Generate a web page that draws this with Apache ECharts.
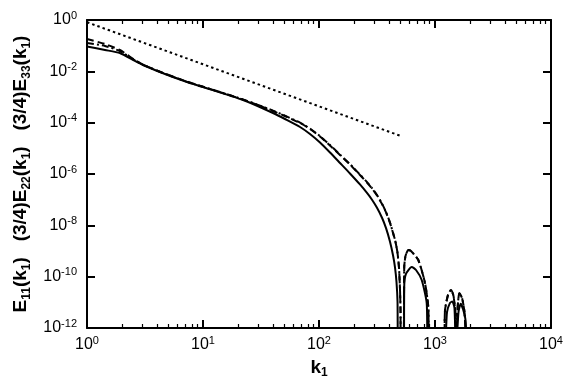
<!DOCTYPE html>
<html>
<head>
<meta charset="utf-8">
<script src="https://cdn.jsdelivr.net/npm/echarts@6/dist/echarts.min.js"></script>
<style>
  html, body { margin: 0; padding: 0; background: #fff; }
  #chart { width: 581px; height: 388px; }
</style>
</head>
<body>
<div id="chart"></div>
<script>
// tick positions
var xMajor = [1, 10, 100, 1000, 10000];
var xMinor = [2, 3, 4, 5, 6, 7, 8, 9, 20, 30, 40, 50, 60, 70, 80, 90,
  200, 300, 400, 500, 600, 700, 800, 900, 2000, 3000, 4000, 5000, 6000, 7000, 8000, 9000];
var yTicks = [1e-12, 1e-10, 1e-8, 1e-6, 1e-4, 1e-2, 1];

// E11 (solid)
var e11K = [1, 1.43, 1.92, 2.59, 3.04, 4.70, 7.28, 10, 22.1, 40.1, 51.9, 68.6, 83.6, 102, 124.4, 151.7, 184.9, 225.5, 259.2, 286.4,
  316.2, 349.3, 378.3, 409.4, 434.5, 452, 465.6, 475.3, 481.8,
  538, 543.5, 562, 630, 686, 768, 848, 880,
  1180, 1269, 1347, 1410, 1472, 1520,
  1540, 1594, 1666, 1743, 1832, 1880];
var e11E = [9.29e-2, 6.78e-2, 5.18e-2, 2.53e-2, 1.77e-2, 7.87e-3, 3.85e-3, 2.45e-3, 7.64e-4, 2.38e-4, 1.33e-4, 6.79e-5, 3.62e-5, 1.69e-5, 6.89e-6, 2.69e-6, 1.05e-6, 3.91e-7, 1.82e-7, 9.9e-8,
  4.83e-8, 1.97e-8, 7.74e-9, 2.29e-9, 6.82e-10, 2.32e-10, 6.21e-11, 1.03e-11, 1e-13,
  1e-13, 4.79e-11, 1.29e-10, 2.40e-10, 1.82e-10, 7.41e-11, 9.55e-12, 1e-13,
  1e-13, 4.17e-12, 9.55e-12, 1.07e-11, 6.03e-12, 1e-13,
  1e-13, 4.17e-12, 8.71e-12, 5.50e-12, 2.04e-12, 1e-13];

// (3/4)E22 (dashed)
var e22K = [1, 1.43, 1.92, 2.59, 3.04, 4.70, 7.28, 10, 22.1, 40.1, 51.9, 68.6, 83.6, 102, 124.4, 151.7, 184.9, 225.5, 259.2, 286.4,
  316.2, 349.3, 378.3, 409.4, 434.5, 456.6, 475.1, 489.5, 499.3, 504.2, 509.2,
  535, 543, 557, 589, 621, 718, 820, 875, 900,
  1175, 1220, 1295, 1374, 1444, 1502, 1530,
  1540, 1563, 1620, 1710, 1796, 1880];
var e22E = [1.82e-1, 1.16e-1, 6.78e-2, 2.75e-2, 1.82e-2, 8.13e-3, 3.98e-3, 2.51e-3, 7.94e-4, 2.85e-4, 1.74e-4, 9.72e-5, 5.68e-5, 2.90e-5, 1.29e-5, 5.51e-6, 2.35e-6, 9.16e-7, 4.68e-7, 2.73e-7,
  1.46e-7, 6.79e-8, 3.17e-8, 1.24e-8, 5.04e-9, 2.25e-9, 8.38e-10, 2.18e-10, 3.03e-11, 5.01e-12, 1e-13,
  1e-13, 2.40e-10, 6.46e-10, 1.10e-9, 1.0e-9, 4.47e-10, 5.62e-11, 6.76e-12, 1e-13,
  1e-13, 5.01e-12, 1.95e-11, 3.02e-11, 1.78e-11, 3.24e-12, 1e-13,
  1e-13, 5.01e-12, 2.24e-11, 1.48e-11, 4.17e-12, 1e-13];

// (3/4)E33 (dash-dot)
var e33K = e22K;
var e33E = [1.27e-1, 9.77e-2, 6.17e-2, 2.69e-2, 1.80e-2, 8.0e-3, 3.9e-3, 2.5e-3, 8.1e-4, 2.95e-4, 1.8e-4, 1.0e-4, 5.9e-5, 3.0e-5, 1.34e-5, 5.7e-6, 2.43e-6, 9.5e-7, 4.85e-7, 2.83e-7,
  1.51e-7, 7.0e-8, 3.27e-8, 1.28e-8, 5.2e-9, 2.3e-9, 8.5e-10, 2.2e-10, 3.1e-11, 5.1e-12, 1e-13,
  1e-13, 2.40e-10, 6.46e-10, 1.10e-9, 1.0e-9, 4.47e-10, 5.62e-11, 6.76e-12, 1e-13,
  1e-13, 5.01e-12, 1.95e-11, 3.02e-11, 1.78e-11, 3.24e-12, 1e-13,
  1e-13, 5.01e-12, 2.24e-11, 1.48e-11, 4.17e-12, 1e-13];

// k^-5/3 reference line (dotted)
var refK = [1, 500];
var refE = [0.82, 3.1e-5];

function zip(a, b) {
  return a.map(function (v, i) { return [v, b[i]]; });
}

var font = 'Liberation Sans';
function powLabel(v) {
  var e = Math.round(Math.log10(v));
  return '{b|10}{s|' + e + '}';
}
var labelRich = {
  b: { fontSize: 16, fontFamily: font, color: '#000', lineHeight: 20 },
  s: { fontSize: 11, fontFamily: font, color: '#000', lineHeight: 12, verticalAlign: 'top' }
};

function xAx(pos, ticks, len, w, showLine, showLabel) {
  return {
    type: 'log', min: 1, max: 10000, position: pos,
    axisLine: { show: showLine, onZero: false, lineStyle: { color: '#000', width: 2 } },
    axisTick: { show: true, inside: true, length: len, customValues: ticks, lineStyle: { color: '#000', width: w } },
    axisLabel: { show: showLabel, customValues: xMajor, formatter: powLabel, rich: labelRich, margin: 7 },
    splitLine: { show: false }, minorTick: { show: false }
  };
}

function curve(name, k, e, type) {
  return {
    name: name, type: 'line', data: zip(k, e), showSymbol: false, symbol: 'none', clip: true,
    smooth: 0.2,
    lineStyle: { color: '#000', width: 2, type: type }
  };
}

var chart = echarts.init(document.getElementById('chart'));
chart.setOption({
  animation: false,
  backgroundColor: '#fff',
  grid: { left: 87, right: 30, top: 20, bottom: 60, containLabel: false },
  xAxis: [
    Object.assign(xAx('bottom', xMajor, 8, 2, true, true), {
      name: '{t|k}{u|1}', nameLocation: 'middle', nameGap: 20,
      nameTextStyle: {
        rich: {
          t: { fontSize: 19, fontWeight: 'bold', fontFamily: font, color: '#000', lineHeight: 22 },
          u: { fontSize: 12, fontWeight: 'bold', fontFamily: font, color: '#000', lineHeight: 12, verticalAlign: 'bottom' }
        }
      }
    }),
    xAx('bottom', xMinor, 4, 1.2, false, false),
    xAx('top', xMajor, 8, 2, true, false),
    xAx('top', xMinor, 4, 1.2, false, false)
  ],
  yAxis: [
    {
      type: 'log', min: 1e-12, max: 1, position: 'left',
      axisLine: { show: true, onZero: false, lineStyle: { color: '#000', width: 2 } },
      axisTick: { show: true, inside: true, length: 8, customValues: yTicks, lineStyle: { color: '#000', width: 2 } },
      axisLabel: { customValues: yTicks, formatter: powLabel, rich: labelRich, margin: 10 },
      splitLine: { show: false },
      name: '{t|E}{u|11}{t|(k}{u|1}{t|)   (3/4)E}{u|22}{t|(k}{u|1}{t|)   (3/4)E}{u|33}{t|(k}{u|1}{t|)}',
      nameLocation: 'middle', nameRotate: 90, nameGap: 52,
      nameTextStyle: {
        rich: {
          t: { fontSize: 19, fontWeight: 'bold', fontFamily: font, color: '#000', lineHeight: 24 },
          u: { fontSize: 12, fontWeight: 'bold', fontFamily: font, color: '#000', lineHeight: 12, verticalAlign: 'bottom' }
        }
      }
    },
    {
      type: 'log', min: 1e-12, max: 1, position: 'right',
      axisLine: { show: true, onZero: false, lineStyle: { color: '#000', width: 2 } },
      axisTick: { show: true, inside: true, length: 8, customValues: yTicks, lineStyle: { color: '#000', width: 2 } },
      axisLabel: { show: false },
      splitLine: { show: false }
    }
  ],
  series: [
    {
      name: 'ref', type: 'line', data: zip(refK, refE), showSymbol: false, symbol: 'none',
      lineStyle: { color: '#000', width: 2, type: [2.5, 3] }
    },
    curve('E11', e11K, e11E, 'solid'),
    curve('E22', e22K, e22E, [7, 4]),
    curve('E33', e33K, e33E, [7, 3, 2, 3])
  ]
});
</script>
</body>
</html>
